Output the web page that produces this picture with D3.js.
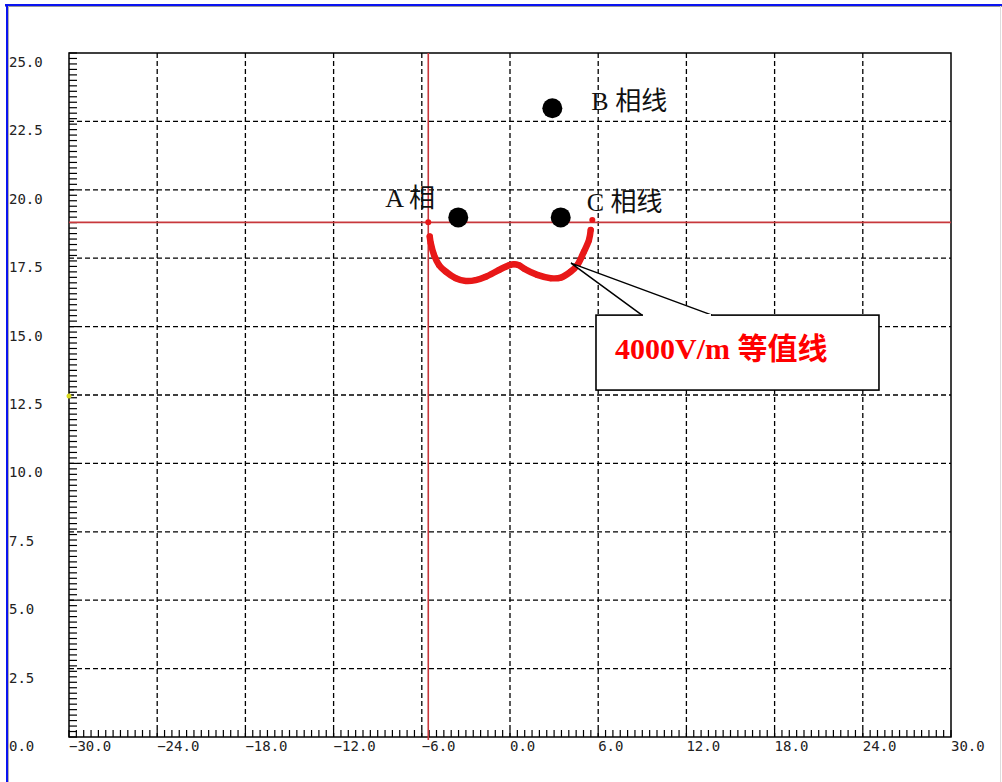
<!DOCTYPE html>
<html>
<head>
<meta charset="utf-8">
<script src="https://cdn.jsdelivr.net/npm/d3@7"></script>
<style>
    body { margin: 0; background: #fff; }
    svg { display: block; }
</style>
</head>
<body>
<div id="wrapper"></div>
<script>
// values
const xTicks = [-30, -24, -18, -12, -6, 0, 6, 12, 18, 24, 30];
const yTicks = [0, 2.5, 5, 7.5, 10, 12.5, 15, 17.5, 20, 22.5, 25];

const phaseNames = ['A 相', 'B 相线', 'C 相线'];
const phaseX = [-3.52, 2.88, 3.45];
const phaseY = [18.99, 22.98, 18.99];

// 4000V/m contour
const contourX = [-5.56, -5.46, -5.39, -5.17, -4.83, -4.37, -3.69, -3.01, -2.33, -1.65, -0.75, -0.07,
    0.27, 0.61, 0.95, 1.86, 2.77, 3.45, 4.13, 4.58, 5.03, 5.37, 5.49, 5.60];
const contourY = [18.81, 18.29, 18.05, 17.62, 17.25, 17.01, 16.77, 16.67, 16.70, 16.82, 17.07, 17.24,
    17.28, 17.24, 17.12, 16.89, 16.77, 16.79, 17.01, 17.25, 17.74, 18.16, 18.53, 18.90];

// red cross-hair lines
const crossX = -5.56;
const crossY = 18.81;

// stray marker on the y axis
const markerX = [-30];
const markerY = [12.46];

const contourLabel = '4000V/m 等值线';

//set up dimensions
const dimensions = {
    width: 1002,
    height: 782,
    margin: { top: 53, right: 51, bottom: 45, left: 69 },
};
dimensions.boundedWidth = dimensions.width - dimensions.margin.left - dimensions.margin.right;
dimensions.boundedHeight = dimensions.height - dimensions.margin.top - dimensions.margin.bottom;

const svg = d3.select('#wrapper')
    .append('svg')
    .attr('width', dimensions.width)
    .attr('height', dimensions.height);

// window frame
svg.append('line').attr('x1', 5).attr('x2', 1002).attr('y1', 5).attr('y2', 5)
    .attr('stroke', '#0a14f0').attr('stroke-width', 2);
svg.append('line').attr('x1', 5).attr('x2', 1002).attr('y1', 6.5).attr('y2', 6.5)
    .attr('stroke', '#9a9a9a').attr('stroke-width', 1);
svg.append('line').attr('x1', 7).attr('x2', 7).attr('y1', 4).attr('y2', 782)
    .attr('stroke', '#0a14f0').attr('stroke-width', 2);
svg.append('line').attr('x1', 8.5).attr('x2', 8.5).attr('y1', 6).attr('y2', 782)
    .attr('stroke', '#b0b0b0').attr('stroke-width', 1);
svg.append('line').attr('x1', 1000.5).attr('x2', 1000.5).attr('y1', 6).attr('y2', 782)
    .attr('stroke', '#dddddd').attr('stroke-width', 1);

const bounds = svg.append('g')
    .attr('transform', `translate(${dimensions.margin.left}, ${dimensions.margin.top})`);

const x = d3.scaleLinear().domain([-30, 30]).range([0, dimensions.boundedWidth]);
const y = d3.scaleLinear().domain([0, 25]).range([dimensions.boundedHeight, 0]);

// dashed grid
bounds.append('g')
    .selectAll('line')
    .data(xTicks.slice(1, -1))
    .join('line')
    .attr('x1', d => x(d)).attr('x2', d => x(d))
    .attr('y1', 0).attr('y2', dimensions.boundedHeight)
    .attr('stroke', '#000').attr('stroke-width', 1.3)
    .attr('stroke-dasharray', '5,3');

bounds.append('g')
    .selectAll('line')
    .data(yTicks.slice(1, -1))
    .join('line')
    .attr('x1', 0).attr('x2', dimensions.boundedWidth)
    .attr('y1', d => y(d)).attr('y2', d => y(d))
    .attr('stroke', '#000').attr('stroke-width', 1.3)
    .attr('stroke-dasharray', '5,3');

// minor ticks, pointing inward
const minorX = d3.range(-30, 30.001, 0.5);
const minorY = d3.range(0, 25.001, 0.2);

bounds.append('g')
    .selectAll('line')
    .data(minorX)
    .join('line')
    .attr('x1', d => x(d)).attr('x2', d => x(d))
    .attr('y1', dimensions.boundedHeight).attr('y2', dimensions.boundedHeight - 7)
    .attr('stroke', '#000').attr('stroke-width', 1.2);

bounds.append('g')
    .selectAll('line')
    .data(minorY)
    .join('line')
    .attr('x1', 0).attr('x2', 8)
    .attr('y1', d => y(d)).attr('y2', d => y(d))
    .attr('stroke', '#000').attr('stroke-width', 1.2);

// plot frame
bounds.append('rect')
    .attr('width', dimensions.boundedWidth)
    .attr('height', dimensions.boundedHeight)
    .attr('fill', 'none')
    .attr('stroke', '#000')
    .attr('stroke-width', 1.5);

// tick labels
const fmt = d3.format('.1f');
svg.append('g')
    .selectAll('text')
    .data(yTicks)
    .join('text')
    .attr('x', 9)
    .attr('y', d => dimensions.margin.top + y(d) + 14)
    .attr('font-family', 'DejaVu Sans Mono, monospace')
    .attr('font-size', 14)
    .attr('fill', '#222')
    .text(d => fmt(d));

svg.append('g')
    .selectAll('text')
    .data(xTicks)
    .join('text')
    .attr('x', d => dimensions.margin.left + x(d))
    .attr('y', dimensions.margin.top + dimensions.boundedHeight + 14)
    .attr('font-family', 'DejaVu Sans Mono, monospace')
    .attr('font-size', 14)
    .attr('fill', '#222')
    .text(d => fmt(d));

// red cross-hair
bounds.append('line')
    .attr('x1', x(crossX)).attr('x2', x(crossX))
    .attr('y1', 0).attr('y2', dimensions.boundedHeight + 3)
    .attr('stroke', '#c8383c').attr('stroke-width', 1.6);
bounds.append('line')
    .attr('x1', 0).attr('x2', dimensions.boundedWidth)
    .attr('y1', y(crossY)).attr('y2', y(crossY))
    .attr('stroke', '#c8383c').attr('stroke-width', 1.6);

// stray marker
bounds.selectAll('.marker')
    .data(markerX)
    .join('circle')
    .attr('class', 'marker')
    .attr('cx', d => x(d))
    .attr('cy', (d, i) => y(markerY[i]))
    .attr('r', 2.5)
    .attr('fill', '#d8d820');

// contour
const contour = contourX.map((d, i) => [d, contourY[i]]);
const line = d3.line()
    .x(d => x(d[0]))
    .y(d => y(d[1]))
    .curve(d3.curveCatmullRom);

bounds.append('path')
    .datum(contour.slice(1, -1))
    .attr('d', line)
    .attr('fill', 'none')
    .attr('stroke', '#e81818')
    .attr('stroke-width', 6.5)
    .attr('stroke-linecap', 'round');

bounds.selectAll('.cpt')
    .data(contour)
    .join('circle')
    .attr('class', 'cpt')
    .attr('cx', d => x(d[0]))
    .attr('cy', d => y(d[1]))
    .attr('r', 3)
    .attr('fill', '#e81818');

// phase conductors
bounds.selectAll('.phase')
    .data(phaseX)
    .join('circle')
    .attr('class', 'phase')
    .attr('cx', d => x(d))
    .attr('cy', (d, i) => y(phaseY[i]))
    .attr('r', 10)
    .attr('fill', '#000');

const labelOffset = [[-73, -10], [39, 2], [26, -6]];
bounds.selectAll('.phase-label')
    .data(phaseNames)
    .join('text')
    .attr('class', 'phase-label')
    .attr('x', (d, i) => x(phaseX[i]) + labelOffset[i][0])
    .attr('y', (d, i) => y(phaseY[i]) + labelOffset[i][1])
    .attr('font-family', 'Liberation Serif, Noto Sans CJK SC, serif')
    .attr('font-size', 26)
    .attr('fill', '#111')
    .text(d => d);

// callout box
const tip = [4.15, 17.32];
const box = { x0: 5.85, x1: 25.1, y0: 15.42, y1: 12.68, b0: 8.98, b1: 13.74 };
const callout = bounds.append('g');
callout.append('path')
    .attr('d', `M${x(box.b0)},${y(box.y0)} L${x(tip[0])},${y(tip[1])} L${x(box.b1)},${y(box.y0)}`)
    .attr('fill', '#fff')
    .attr('stroke', '#000')
    .attr('stroke-width', 1.5);
callout.append('rect')
    .attr('x', x(box.x0))
    .attr('y', y(box.y0))
    .attr('width', x(box.x1) - x(box.x0))
    .attr('height', y(box.y1) - y(box.y0))
    .attr('fill', '#fff')
    .attr('stroke', '#000')
    .attr('stroke-width', 1.6);
callout.append('line')
    .attr('x1', x(box.b0) + 1).attr('x2', x(box.b1) - 1)
    .attr('y1', y(box.y0)).attr('y2', y(box.y0))
    .attr('stroke', '#fff').attr('stroke-width', 2);
callout.append('text')
    .attr('x', x(box.x0) + 19)
    .attr('y', y(box.y0) + 44)
    .attr('font-family', 'Liberation Serif, Noto Sans CJK SC, serif')
    .attr('font-weight', 'bold')
    .attr('font-size', 30)
    .attr('fill', '#ff0000')
    .text(contourLabel);
</script>
</body>
</html>
